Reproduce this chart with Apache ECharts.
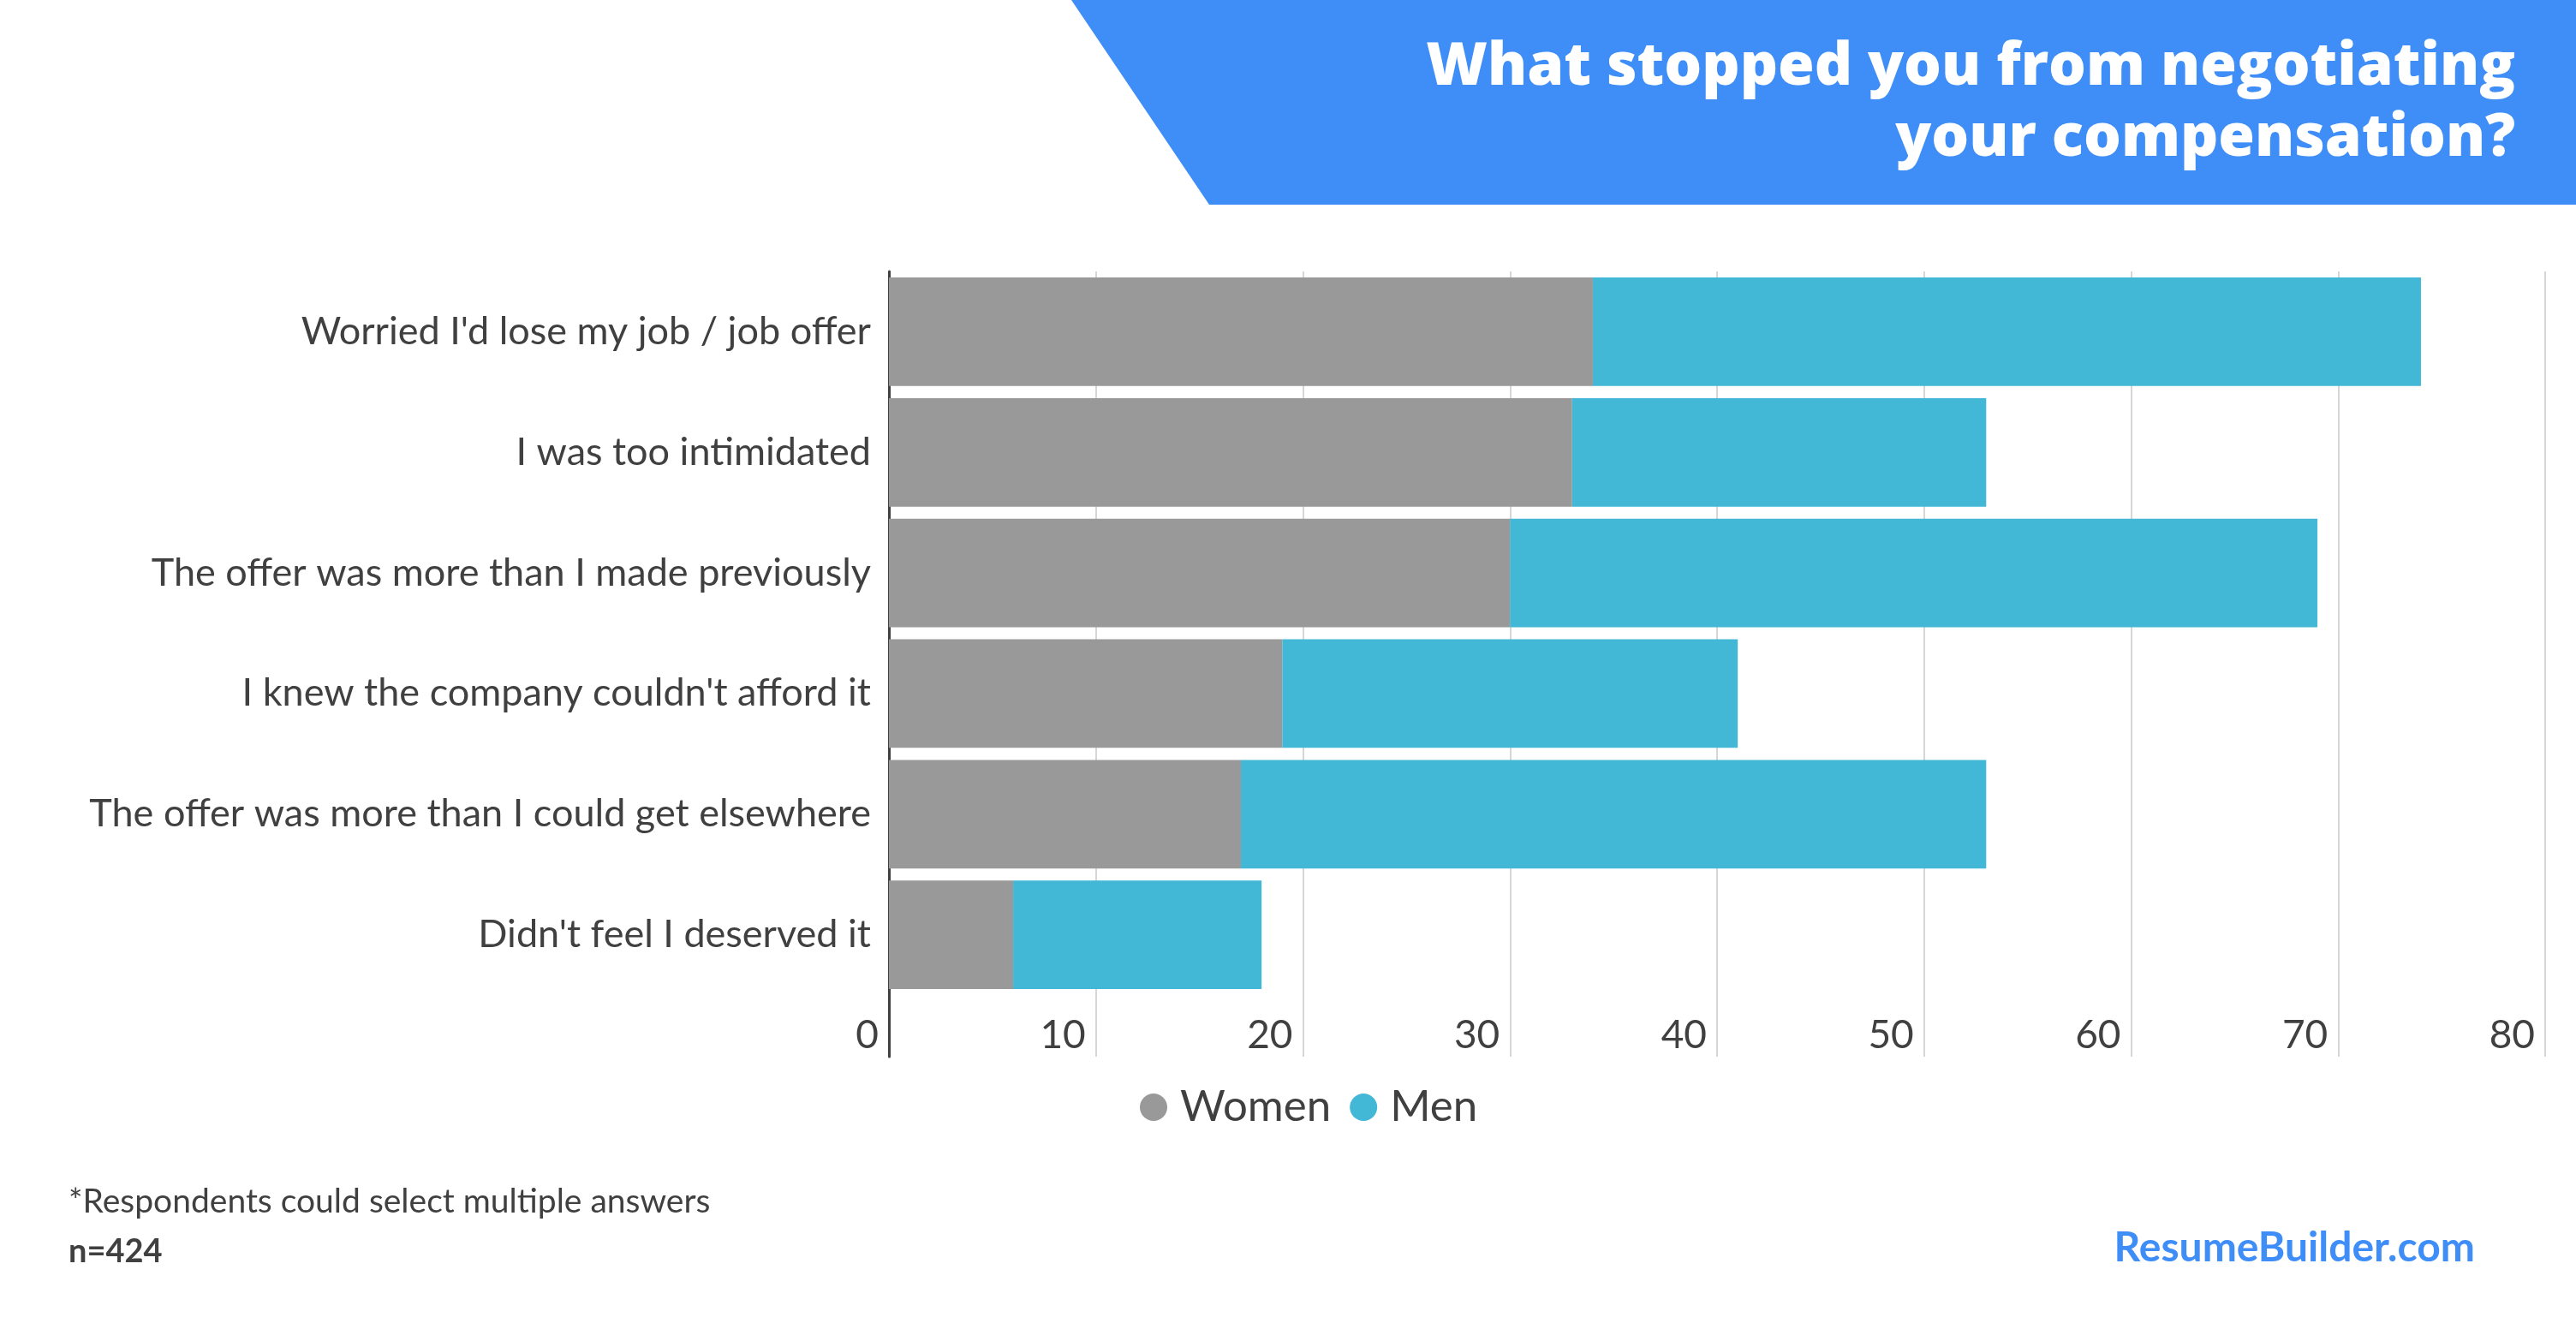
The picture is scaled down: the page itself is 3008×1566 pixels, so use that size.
<!DOCTYPE html>
<html>
<head>
<meta charset="utf-8">
<style>
html,body{margin:0;padding:0;background:#fff;}
#chart{width:3008px;height:1566px;}
</style>
<script src="https://cdn.jsdelivr.net/npm/echarts@6/dist/echarts.min.js"></script>
</head>
<body>
<div id="chart"></div>
<script>
var categories = [
  "Worried I'd lose my job / job offer",
  "I was too intimidated",
  "The offer was more than I made previously",
  "I knew the company couldn't afford it",
  "The offer was more than I could get elsewhere",
  "Didn't feel I deserved it"
];
var seriesNames = ["Women", "Men"];
var women = [34, 33, 30, 19, 17, 6];
var men = [40, 20, 39, 22, 36, 12];
var xTicks = { min: 0, max: 80, interval: 10 };
var titleLines = ["What stopped you from negotiating", "your compensation?"];
var footnote = "*Respondents could select multiple answers";
var sampleSize = "n=424";
var brand = "ResumeBuilder.com";

var FONT = "Lato";
var TEXT = "#404040";
var chart = echarts.init(document.getElementById('chart'));
chart.setOption({
  backgroundColor: '#ffffff',
  animation: false,
  legend: {
    data: seriesNames,
    left: 1326,
    top: 1258,
    icon: 'circle',
    itemWidth: 32,
    itemHeight: 32,
    itemGap: 22,
    textStyle: { fontFamily: FONT, fontSize: 51, color: TEXT, padding: [0, 0, 0, 10], lineHeight: 60 }
  },
  grid: [
    { left: 1038, right: 36, top: 317, height: 845, containLabel: false },
    { left: 1038, right: 36, top: 1162, height: 72, containLabel: false }
  ],
  xAxis: [
    {
      type: 'value', gridIndex: 0,
      min: xTicks.min, max: xTicks.max, interval: xTicks.interval,
      axisLine: { show: false }, axisTick: { show: false },
      splitLine: { show: true, lineStyle: { color: '#d6d6d6', width: 2 } },
      axisLabel: { fontFamily: FONT, fontSize: 46, color: TEXT, align: 'right', padding: [0, 12, 0, 0], margin: 24 }
    },
    {
      type: 'value', gridIndex: 1,
      min: xTicks.min, max: xTicks.max, interval: xTicks.interval,
      axisLine: { show: false }, axisTick: { show: false }, axisLabel: { show: false },
      splitLine: { show: true, lineStyle: { color: '#d6d6d6', width: 2 } }
    }
  ],
  yAxis: [
    {
      type: 'category', gridIndex: 0, data: categories, inverse: true,
      axisLine: { show: true, lineStyle: { color: '#404040', width: 3 } },
      axisTick: { show: false },
      axisLabel: { fontFamily: FONT, fontSize: 45, color: TEXT, margin: 21 }
    },
    {
      type: 'value', gridIndex: 1, min: 0, max: 1,
      axisLine: { show: true, lineStyle: { color: '#404040', width: 3 } },
      axisTick: { show: false }, axisLabel: { show: false }, splitLine: { show: false }
    }
  ],
  series: [
    {
      name: seriesNames[0], type: 'bar', stack: 'total', data: women,
      xAxisIndex: 0, yAxisIndex: 0,
      barCategoryGap: '10%',
      itemStyle: { color: '#999999' }
    },
    {
      name: seriesNames[1], type: 'bar', stack: 'total', data: men,
      xAxisIndex: 0, yAxisIndex: 0,
      barCategoryGap: '10%',
      itemStyle: { color: '#42b7d6' }
    }
  ],
  graphic: [
    {
      type: 'polygon', z: 0, silent: true,
      shape: { points: [[1251, 0], [3008, 0], [3008, 239], [1412, 239]] },
      style: { fill: '#3f8ef7' }
    },
    {
      type: 'text', x: 2937, y: 79, z: 10,
      style: { text: titleLines[0], align: 'right', verticalAlign: 'middle', fontFamily: 'Open Sans', fontWeight: 800, fontSize: 69, fill: '#ffffff' }
    },
    {
      type: 'text', x: 2937, y: 162, z: 10,
      style: { text: titleLines[1], align: 'right', verticalAlign: 'middle', fontFamily: 'Open Sans', fontWeight: 800, fontSize: 69, fill: '#ffffff' }
    },
    {
      type: 'text', left: 80, top: 1384,
      style: { text: footnote, fontFamily: FONT, fontSize: 39, fill: TEXT }
    },
    {
      type: 'text', left: 80, top: 1443,
      style: { text: sampleSize, fontFamily: FONT, fontSize: 38, fontWeight: 'bold', fill: TEXT }
    },
    {
      type: 'text', right: 118, top: 1434,
      style: { text: brand, fontFamily: FONT, fontSize: 48, fontWeight: 'bold', fill: '#3f8ef7' }
    }
  ]
});
</script>
</body>
</html>
